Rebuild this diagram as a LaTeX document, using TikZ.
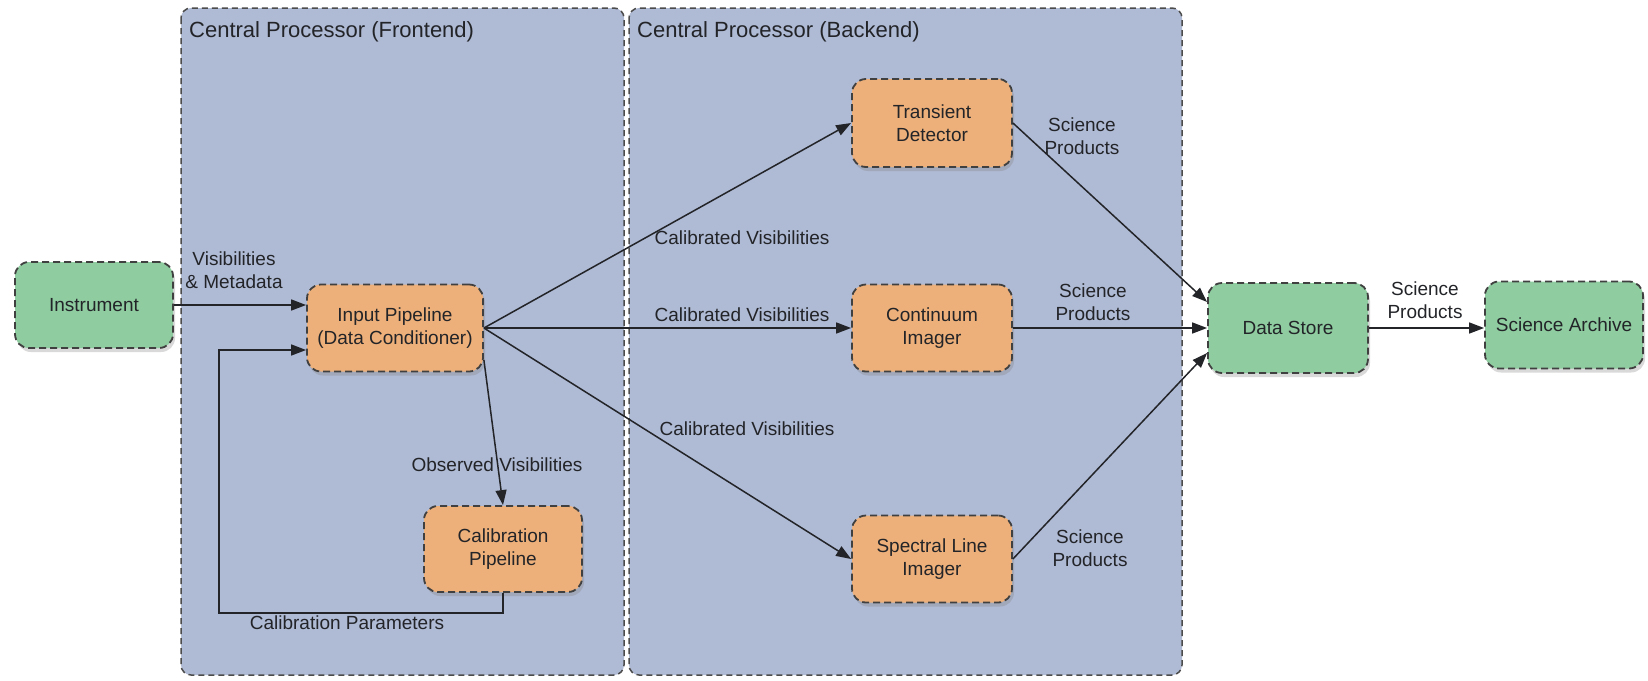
\documentclass[tikz,border=0pt]{standalone}
\usepackage{fontspec}
\setmainfont{Liberation Sans}
\usetikzlibrary{arrows.meta,shadows,calc}
\definecolor{panelblue}{RGB}{175,186,212}
\definecolor{boxorange}{RGB}{238,176,122}
\definecolor{boxgreen}{RGB}{143,204,160}
\definecolor{inkdark}{RGB}{34,36,40}
\begin{document}
\begin{tikzpicture}[x=1pt,y=-1pt,
  font=\fontsize{19}{23}\selectfont,
  box/.style={draw=black!75, dash pattern=on 7pt off 4pt, line width=1.8pt,
    rounded corners=14pt, align=center, text=inkdark, inner sep=2pt,
    drop shadow={shadow xshift=2pt, shadow yshift=-4pt, opacity=0.3}},
  proc/.style={box, fill=boxorange},
  ext/.style={box, fill=boxgreen},
  panelbox/.style={draw=black!70, dash pattern=on 6pt off 4pt, line width=1.5pt,
    fill=panelblue, rounded corners=10pt},
  ptitle/.style={anchor=west, font=\fontsize{22}{26}\selectfont, text=inkdark, inner sep=0pt},
  conn/.style={line width=1.5pt, draw=inkdark, -{Triangle[length=15pt,width=11pt]}},
  lab/.style={text=inkdark, align=center, inner sep=0pt},
]
\useasboundingbox (0,0) rectangle (1648,680);

% panels
\draw[panelbox] (181,8) rectangle (624,675);
\draw[panelbox] (629,8) rectangle (1182,675);
\node[ptitle] (ftitle) at (189,32) {Central Processor (Frontend)};
\node[ptitle] (btitle) at (637,32) {Central Processor (Backend)};

% nodes
\node[ext, minimum width=158pt, minimum height=86pt] (inst) at (94,305) {Instrument};
\node[proc, minimum width=176pt, minimum height=87pt] (ip) at (395,328) {Input Pipeline\\(Data Conditioner)};
\node[proc, minimum width=158pt, minimum height=86pt] (cal) at (503,549) {Calibration\\Pipeline};
\node[proc, minimum width=160pt, minimum height=88pt] (td) at (932,123) {Transient\\Detector};
\node[proc, minimum width=160pt, minimum height=87pt] (ci) at (932,328) {Continuum\\Imager};
\node[proc, minimum width=160pt, minimum height=87pt] (sl) at (932,559) {Spectral Line\\Imager};
\node[ext, minimum width=160pt, minimum height=90pt] (ds) at (1288,328) {Data Store};
\node[ext, minimum width=158pt, minimum height=87pt] (sa) at (1564,325) {Science Archive};

% connectors
\draw[conn] (inst.east) -- (inst.east -| ip.west);
\draw[conn] ($(ip.east)+(0,32)$) -- (cal.north);
\draw[conn] (cal.south) -- ++(0,20) -- ++(-284,0) |- ($(ip.west)+(0,22)$);
\draw[conn] (ip.east) -- (td.west);
\draw[conn] (ip.east) -- (ci.west);
\draw[conn] (ip.east) -- (sl.west);
\draw[conn] (td.east) -- ($(ds.west)+(0,-26)$);
\draw[conn] (ci.east) -- (ds.west);
\draw[conn] (sl.east) -- ($(ds.west)+(0,25)$);
\draw[conn] (ds.east) -- (ds.east -| sa.west);

% labels
\node[lab] (l1) at (234,270) {Visibilities\\\& Metadata};
\node[lab] (l2) at (497,465) {Observed Visibilities};
\node[lab] (l3) at (347,623) {Calibration Parameters};
\node[lab] (l4) at (742,238) {Calibrated Visibilities};
\node[lab] (l5) at (742,315) {Calibrated Visibilities};
\node[lab] (l6) at (747,429) {Calibrated Visibilities};
\node[lab] (l7) at (1082,136) {Science\\Products};
\node[lab] (l8) at (1093,302) {Science\\Products};
\node[lab] (l9) at (1090,548) {Science\\Products};
\node[lab] (l10) at (1425,300) {Science\\Products};
\end{tikzpicture}
\end{document}
